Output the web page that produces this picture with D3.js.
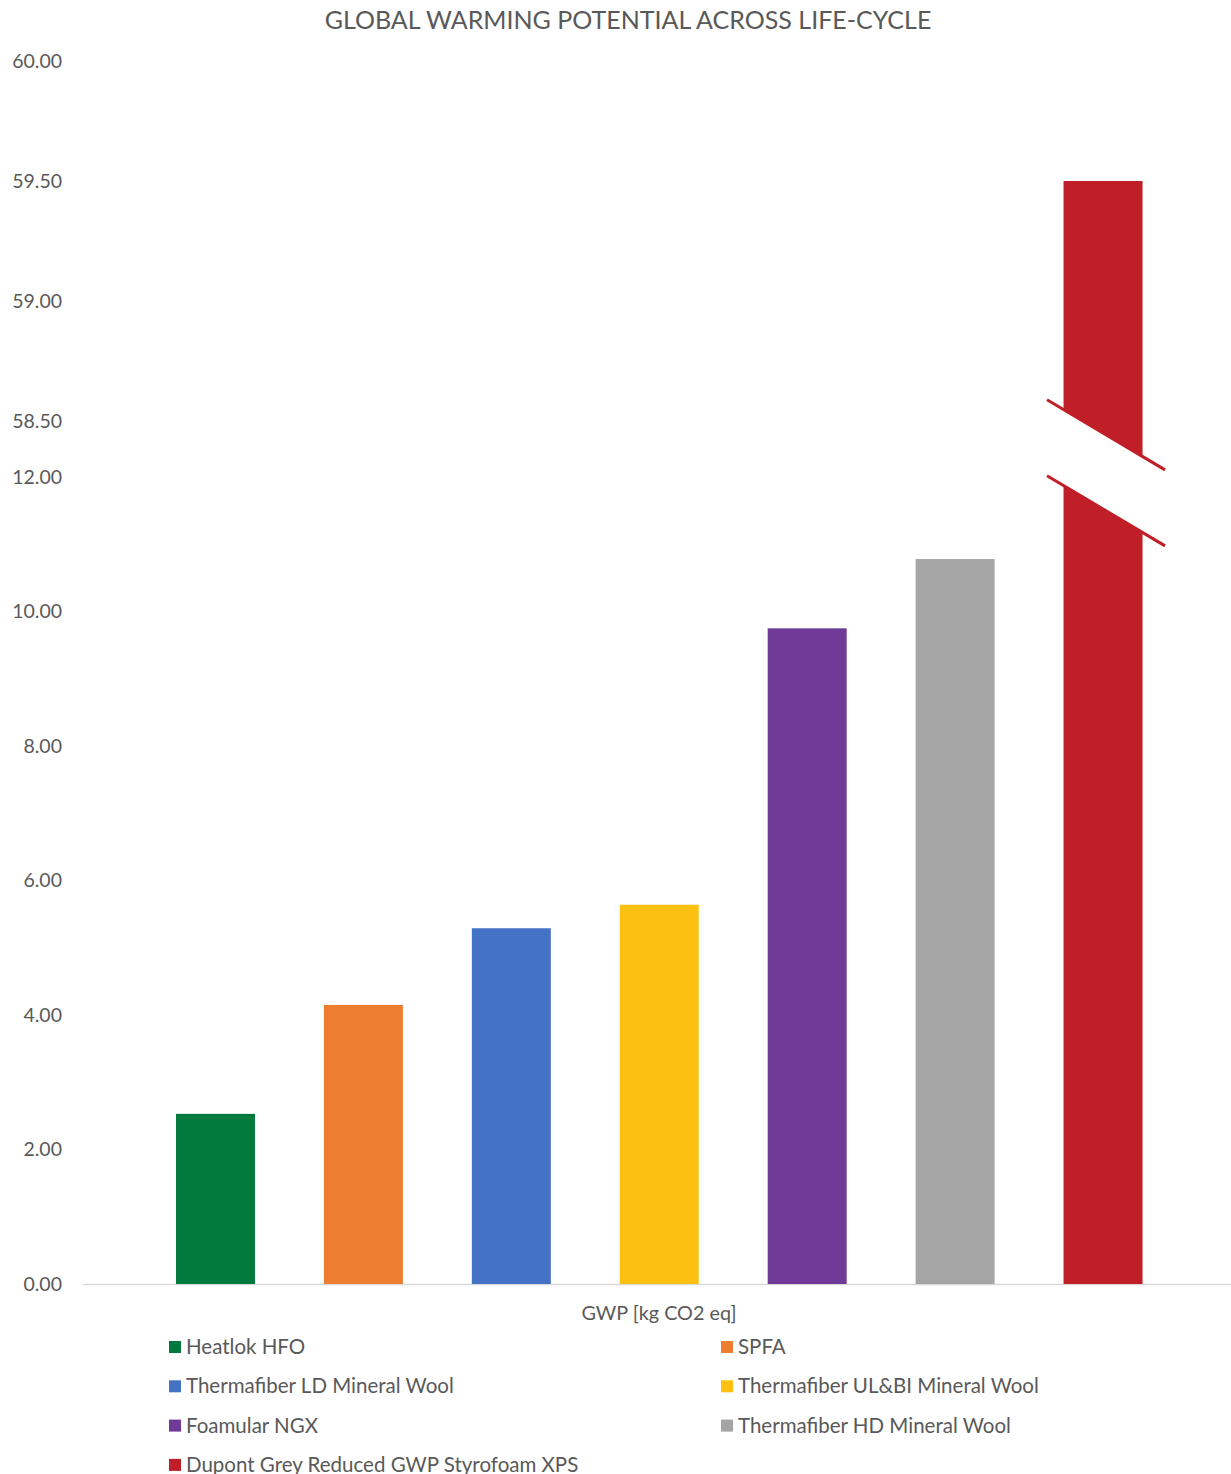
<!DOCTYPE html>
<html><head><meta charset="utf-8">
<script src="https://cdn.jsdelivr.net/npm/d3@7"></script>
<style>body{margin:0;background:#fff;} text{font-family:Lato,"Open Sans",sans-serif;fill:#595959;}</style>
</head><body>
<svg id="c" width="1231" height="1474"></svg>
<script>
const series = ["Heatlok HFO","SPFA","Thermafiber LD Mineral Wool","Thermafiber UL&BI Mineral Wool","Foamular NGX","Thermafiber HD Mineral Wool","Dupont Grey Reduced GWP Styrofoam XPS"];
const values = [2.53, 4.15, 5.29, 5.64, 9.75, 10.78, 59.5];
const colors = ["#027A3E","#ED7D31","#4472C4","#FBC012","#703A97","#A5A5A5","#C01F27"];
const lowerTicks = [0,2,4,6,8,10,12];
const upperTicks = [58.5,59,59.5,60];
const category = "GWP [kg CO2 eq]";
const title = "GLOBAL WARMING POTENTIAL ACROSS LIFE-CYCLE";
const breakLow = 12, breakHigh = 58.5;

const svg = d3.select("#c");
const yLow = d3.scaleLinear().domain([0,12]).range([1284,477]);
const yHigh = d3.scaleLinear().domain([58.5,60]).range([421,61]);
const y = v => v <= breakLow ? yLow(v) : (v >= breakHigh ? yHigh(v) : yLow(breakLow) + (v-breakLow)/(breakHigh-breakLow)*(yHigh(breakHigh)-yLow(breakLow)));
const x = d3.scaleBand().domain(series).range([141.5,1177]).paddingInner(0.466).paddingOuter(0.233);

svg.append("text").attr("x",628).attr("y",29).attr("text-anchor","middle").style("font-size","25px").text(title);

// baseline
svg.append("line").attr("x1",83).attr("x2",1231).attr("y1",yLow(0)+0.5).attr("y2",yLow(0)+0.5).attr("stroke","#d9d9d9").attr("stroke-width",1.3);

// ticks
const tickG = svg.append("g").style("font-size","19.5px");
lowerTicks.forEach(t=>tickG.append("text").attr("x",62).attr("y",yLow(t)).attr("dy","0.35em").attr("text-anchor","end").text(t.toFixed(2)));
upperTicks.forEach(t=>tickG.append("text").attr("x",62).attr("y",yHigh(t)).attr("dy","0.35em").attr("text-anchor","end").text(t.toFixed(2)));

// bars
svg.append("g").selectAll("rect").data(series).join("rect")
  .attr("x",d=>x(d)).attr("width",x.bandwidth())
  .attr("y",(d,i)=>y(values[i])).attr("height",(d,i)=>yLow(0)-y(values[i]))
  .attr("fill",(d,i)=>colors[i]);

// break mark on bars exceeding the break
series.forEach((s,i)=>{
  if(values[i] <= breakLow) return;
  const cx = x(s)+x.bandwidth()/2;
  const hl = 56, hr = 62, slope = 0.595;
  const c1 = yHigh(breakHigh)+12, c2 = yHigh(breakHigh)+88;
  const g = svg.append("g");
  g.append("polygon").attr("points",[[cx-hl,c1-hl*slope+1],[cx+hr,c1+hr*slope+1],[cx+hr,c2+hr*slope-1],[cx-hl,c2-hl*slope-1]].map(p=>p.join(",")).join(" ")).attr("fill","#fff");
  [c1,c2].forEach(c=>g.append("line").attr("x1",cx-hl).attr("y1",c-hl*slope).attr("x2",cx+hr).attr("y2",c+hr*slope).attr("stroke",colors[i]).attr("stroke-width",3));
});

svg.append("text").attr("x",659).attr("y",1313).attr("dy","0.35em").attr("text-anchor","middle").style("font-size","19.8px").text(category);

// legend
const lg = svg.append("g").style("font-size","20.5px");
series.forEach((s,i)=>{
  const col = i%2, row = Math.floor(i/2);
  const lx = col===0 ? 169 : 721, ly = 1347 + row*39.3;
  lg.append("rect").attr("x",lx).attr("y",ly-6).attr("width",12).attr("height",12).attr("fill",colors[i]);
  lg.append("text").attr("x",lx+17).attr("y",ly).attr("dy","0.35em").text(s);
});
</script>
</body></html>
